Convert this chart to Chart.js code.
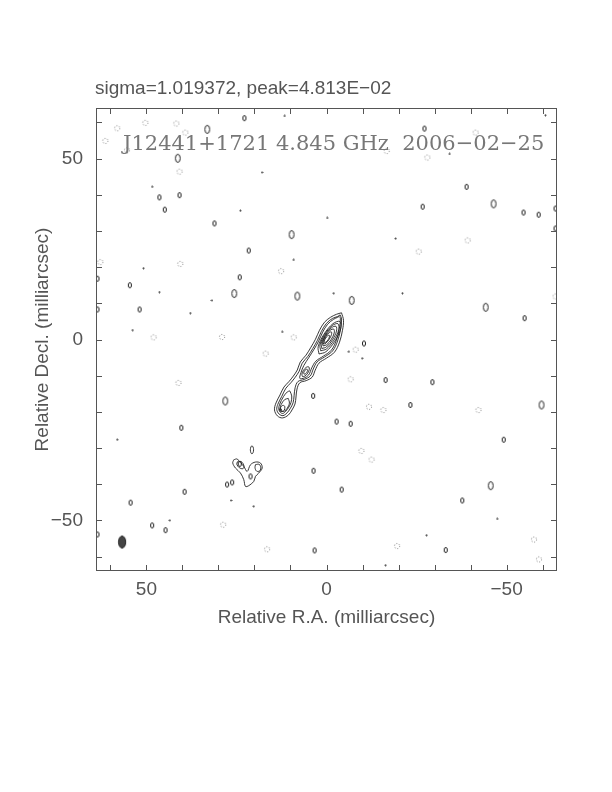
<!DOCTYPE html>
<html lang="en">
<head>
<meta charset="UTF-8">
<title>J12441+1721 4.845 GHz 2006-02-25</title>
<script src="https://cdn.jsdelivr.net/npm/chart.js"></script>
<style>
  html, body { margin: 0; padding: 0; background: #fff; }
  #mapa { display: block; }
</style>
</head>
<body>
<canvas id="mapa" width="612" height="792"></canvas>
<script>
// axis setup (milliarcsec)
const axisLimit = 64;
const tickValues = [-60, -50, -40, -30, -20, -10, 0, 10, 20, 30, 40, 50, 60];
const labelValues = [50, 0, -50];
const labelTexts = ['50', '0', '\u221250'];

const sigmaText = 'sigma=1.019372, peak=4.813E\u221202';
const mapTitle = 'J12441+1721 4.845 GHz  2006\u221202\u221225';

// jet contours, outer to inner  [RA offset, Dec offset]
const jetLevel1 = [[-4.17,7.38],[-4.72,5.32],[-4.44,2.56],[-3.61,-0.74],[-2.22,-3.50],[0.00,-5.15],[2.08,-6.53],[3.14,-8.48],[3.97,-10.40],[5.64,-11.37],[7.40,-11.95],[8.19,-13.69],[8.47,-15.89],[8.75,-17.82],[9.58,-19.48],[10.56,-20.85],[12.22,-21.68],[13.61,-21.13],[14.44,-19.48],[14.03,-17.55],[12.92,-15.35],[11.81,-13.14],[10.42,-11.63],[9.20,-10.10],[8.11,-8.43],[7.28,-6.23],[5.69,-4.33],[4.31,-2.12],[3.06,0.08],[1.94,2.56],[0.56,4.77],[-1.11,6.14],[-2.78,6.97]];
const jetLevel2 = [[-3.78,6.80],[-4.19,5.65],[-3.92,2.89],[-3.08,-0.41],[-1.69,-3.17],[0.53,-4.82],[2.61,-6.20],[3.67,-8.15],[4.50,-10.08],[6.17,-11.04],[7.93,-11.62],[8.72,-13.36],[9.00,-15.56],[9.28,-17.49],[10.11,-19.15],[10.97,-20.30],[12.08,-21.05],[13.19,-20.58],[13.81,-19.34],[13.50,-17.88],[12.39,-15.67],[11.28,-13.47],[9.89,-11.96],[8.67,-10.42],[7.58,-8.76],[6.75,-6.56],[5.17,-4.66],[3.78,-2.45],[2.53,-0.25],[1.42,2.23],[0.03,4.44],[-1.64,5.81],[-3.11,6.36]];
const jetLevel3 = [[-3.51,6.38],[-3.85,5.87],[-3.58,3.11],[-2.74,-0.19],[-1.35,-2.95],[0.87,-4.60],[2.95,-5.98],[4.10,-7.85],[4.95,-9.80],[6.20,-10.65],[7.40,-10.75],[7.10,-9.20],[6.30,-7.20],[4.83,-4.88],[3.44,-2.67],[2.19,-0.47],[1.08,2.01],[-0.31,4.22],[-1.98,5.59],[-3.00,6.10]];
const coreLevel4 = [[2.08,-4.00],[0.17,-3.39],[-2.32,-0.48],[-3.93,2.99],[-3.70,4.98],[-1.79,4.37],[0.70,1.46],[2.31,-2.01]];
const coreLevel5 = [[1.61,-3.12],[0.02,-2.61],[-2.05,-0.19],[-3.39,2.70],[-3.19,4.36],[-1.60,3.85],[0.47,1.43],[1.81,-1.46]];
const coreLevel6 = [[1.31,-2.49],[0.02,-2.06],[-1.67,-0.07],[-2.77,2.30],[-2.63,3.65],[-1.34,3.22],[0.35,1.23],[1.45,-1.14]];
const coreLevel7 = [[0.96,-1.76],[-0.04,-1.45],[-1.33,0.04],[-2.15,1.83],[-2.02,2.86],[-1.02,2.55],[0.27,1.06],[1.09,-0.73]];
const coreLevel8 = [[0.81,-1.26],[0.14,-1.00],[-0.77,0.10],[-1.39,1.38],[-1.35,2.10],[-0.68,1.84],[0.23,0.74],[0.85,-0.54]];
const coreLevel9 = [[0.54,-0.84],[0.11,-0.70],[-0.45,-0.05],[-0.81,0.73],[-0.76,1.18],[-0.33,1.04],[0.23,0.39],[0.59,-0.39]];
const midLevel4 = [[6.66,-10.24],[6.00,-10.12],[5.21,-9.28],[4.77,-8.21],[4.94,-7.56],[5.60,-7.68],[6.39,-8.52],[6.83,-9.59]];
const midLevel5 = [[6.23,-9.57],[5.88,-9.52],[5.48,-9.11],[5.27,-8.57],[5.37,-8.23],[5.72,-8.28],[6.12,-8.70],[6.33,-9.23]];
const lowLevel3 = [[10.2,-14.2],[9.65,-15.6],[9.85,-17.4],[10.55,-18.85],[11.3,-19.8],[12.1,-20.45],[12.85,-20.1],[13.25,-19.2],[13.0,-17.9],[11.95,-15.8],[10.9,-14.5]];
const lowLevel4 = [[10.6,-16.3],[10.3,-17.6],[10.9,-19.0],[11.6,-19.75],[12.4,-19.85],[12.85,-19.2],[12.6,-18.0],[11.6,-16.6]];
const lowLevel5 = [[11.55,-18.5],[11.7,-19.5],[12.35,-19.9],[12.95,-19.6],[12.75,-18.8],[12.1,-18.2]];
const lowLevel6 = [[12.5,-19.25],[12.6,-19.7],[12.95,-19.7],[13.0,-19.3],[12.75,-19.1]];

// south-west feature
const swOuter = [[25.75,-33.25],[24.81,-33.06],[22.97,-35.10],[22.03,-36.47],[21.11,-34.63],[19.72,-33.88],[18.33,-34.16],[17.86,-35.54],[18.81,-36.91],[19.72,-37.85],[20.19,-39.23],[21.58,-40.41],[22.50,-40.61],[22.97,-38.76],[23.89,-36.91],[25.28,-35.54],[26.03,-34.16]];
const swLeftInner = [[24.72,-33.8],[23.6,-33.8],[22.9,-35.0],[23.2,-35.7],[24.2,-35.45],[24.9,-34.5]];
const swRightInner = [[19.72,-34.6],[18.75,-34.5],[18.25,-35.2],[18.5,-36.3],[19.4,-36.4],[19.85,-35.45]];
const swOval = [[21.15,-30.5],[21.0,-29.7],[20.7,-29.4],[20.4,-29.7],[20.25,-30.5],[20.4,-31.3],[20.7,-31.6],[21.0,-31.3]];

// isolated noise contours
const posLarge = [[33.1,58.1],[41.3,50.1],[25.6,12.7],[8.1,12.0],[-7.0,10.8],[-46.4,37.5],[-44.2,8.9],[28.1,-17.0],[-45.6,-40.4],[-59.7,-18.1],[9.7,29.0]];
const posSmall = [[22.8,61.2],[46.4,39.3],[40.8,39.9],[44.9,35.9],[31.1,32.1],[21.6,24.6],[24.1,17.2],[54.6,15.0],[51.9,8.3],[63.6,8.3],[63.6,16.8],[-38.9,42.2],[-26.7,36.7],[-54.7,35.1],[-58.9,34.5],[-63.6,36.2],[-63.6,30.7],[-55.0,5.9],[-27.2,58.3],[-10.4,-1.1],[3.7,-15.6],[-2.8,-22.7],[-16.4,-11.2],[-23.3,-18.1],[-29.4,-11.8],[-6.7,-23.3],[-4.2,-41.5],[3.6,-36.3],[3.3,-58.3],[-33.1,-58.2],[-37.7,-44.5],[-49.2,-27.7],[40.3,-24.4],[39.4,-42.1],[54.4,-45.1],[48.4,-51.4],[44.7,-52.7],[63.6,-53.9],[27.6,-40.1],[26.2,-39.5],[21.1,-37.85],[24.1,-34.4]];
const posDots = [[11.6,61.8],[17.9,46.2],[48.4,42.2],[23.9,35.6],[-0.2,33.6],[9.1,22.0],[50.8,19.7],[46.4,13.1],[31.8,10.8],[37.8,7.3],[53.8,2.6],[12.3,2.1],[-19.2,27.9],[-21.1,12.8],[-34.2,51.3],[-60.8,62.0],[-2.0,12.8],[-6.2,-3.4],[-9.9,-5.2],[58.1,-27.7],[43.5,-50.0],[26.5,-44.5],[20.2,-46.1],[-27.8,-54.1],[-16.4,-62.4],[-47.4,-49.6]];
const negSpots = [[50.3,59.9],[58.1,58.4],[41.7,59.7],[39.2,57.2],[61.4,54.9],[55.4,52.3],[40.8,46.4],[62.8,21.4],[40.6,20.9],[12.6,18.9],[48.0,0.6],[29.0,0.7],[9.1,0.6],[-28.0,50.3],[-16.7,52.1],[-41.4,57.2],[-39.2,27.4],[-25.6,24.3],[-63.6,11.9],[16.9,-3.9],[-8.1,-2.8],[-6.7,-11.0],[-11.8,-18.6],[-42.2,-19.5],[-15.8,-19.5],[-9.7,-30.8],[-12.5,-33.2],[41.1,-12.0],[28.7,-51.2],[16.5,-58.0],[-19.6,-57.1],[-57.6,-55.3],[-59.0,-60.8]];
const beamPos = [[56.75,-56.0]];

// little sprites for the noise blobs
function oval(w, h, rx, ry, stroke, fill, dash) {
    const c = document.createElement('canvas');
    c.width = w; c.height = h;
    const g = c.getContext('2d');
    g.beginPath();
    g.ellipse(w / 2, h / 2, rx, ry, 0, 0, Math.PI * 2);
    if (fill) { g.fillStyle = fill; g.fill(); }
    if (dash) g.setLineDash(dash);
    g.strokeStyle = stroke;
    g.lineWidth = 1;
    g.stroke();
    return c;
}

const spriteLarge = oval(8, 11, 2.4, 4.0, '#222');
const spriteSmall = oval(6, 8, 1.6, 2.6, '#222');
const spriteDot = oval(3, 3, 0.6, 0.6, '#333', '#333');
const spriteNeg = oval(8, 8, 2.6, 2.6, '#777', null, [1, 1.8]);
const spriteBeam = oval(10, 15, 3.6, 6.0, '#222', '#444');

const toXY = arr => arr.map(p => ({ x: p[0], y: p[1] }));

function contour(points) {
    const pts = toXY(points);
    pts.push(pts[0]);
    return {
        data: pts,
        showLine: true,
        borderColor: '#222',
        borderWidth: 0.9,
        pointRadius: 0,
        tension: 0.35,
        fill: false
    };
}

function spots(points, sprite) {
    return {
        data: toXY(points),
        showLine: false,
        pointStyle: sprite,
        pointRadius: 3,
        pointHoverRadius: 3
    };
}

const datasets = [
    contour(jetLevel1), contour(jetLevel2), contour(jetLevel3),
    contour(coreLevel4), contour(coreLevel5), contour(coreLevel6),
    contour(coreLevel7), contour(coreLevel8), contour(coreLevel9),
    contour(midLevel4), contour(midLevel5),
    contour(lowLevel3), contour(lowLevel4), contour(lowLevel5), contour(lowLevel6),
    contour(swOuter), contour(swLeftInner), contour(swRightInner), contour(swOval),
    spots(posLarge, spriteLarge),
    spots(posSmall, spriteSmall),
    spots(posDots, spriteDot),
    spots(negSpots, spriteNeg),
    spots(beamPos, spriteBeam)
];

// frame, inner tick marks and the two text lines
const moldura = {
    id: 'moldura',
    afterDraw(chart) {
        const { ctx, chartArea: a, scales } = chart;
        ctx.save();
        ctx.strokeStyle = '#555';
        ctx.lineWidth = 1;
        ctx.strokeRect(a.left + 0.5, a.top + 0.5, a.right - a.left - 1, a.bottom - a.top - 1);
        const len = 6;
        ctx.beginPath();
        scales.x.ticks.forEach(t => {
            const px = Math.round(scales.x.getPixelForValue(t.value)) + 0.5;
            ctx.moveTo(px, a.bottom); ctx.lineTo(px, a.bottom - len);
            ctx.moveTo(px, a.top); ctx.lineTo(px, a.top + len);
        });
        scales.y.ticks.forEach(t => {
            const py = Math.round(scales.y.getPixelForValue(t.value)) + 0.5;
            ctx.moveTo(a.left, py); ctx.lineTo(a.left + len, py);
            ctx.moveTo(a.right, py); ctx.lineTo(a.right - len, py);
        });
        ctx.stroke();

        ctx.fillStyle = '#555';
        ctx.font = '19px "Liberation Sans"';
        ctx.textBaseline = 'alphabetic';
        ctx.fillText(sigmaText, 95, 94);

        ctx.fillStyle = '#777';
        ctx.font = '21px "DejaVu Serif"';
        ctx.fillText(mapTitle, 123, 150);
        ctx.restore();
    }
};

const fonteEixo = { family: 'Liberation Sans', size: 19 };

new Chart(document.getElementById('mapa'), {
    type: 'scatter',
    data: { datasets: datasets },
    options: {
        responsive: false,
        animation: false,
        devicePixelRatio: 1,
        layout: { padding: { left: 0, top: 108, right: 55, bottom: 0 } },
        plugins: { legend: { display: false }, tooltip: { enabled: false }, title: { display: false } },
        scales: {
            x: {
                type: 'linear',
                reverse: true,
                min: -axisLimit,
                max: axisLimit,
                grid: { display: false, drawTicks: false },
                border: { display: false },
                afterBuildTicks: s => { s.ticks = tickValues.map(v => ({ value: v })); },
                afterFit: s => { s.height = 221; },
                ticks: {
                    autoSkip: false,
                    maxRotation: 0,
                    padding: 7,
                    color: '#555',
                    font: fonteEixo,
                    callback: v => { const i = labelValues.indexOf(v); return i >= 0 ? labelTexts[i] : ''; }
                },
                title: {
                    display: true,
                    text: 'Relative R.A. (milliarcsec)',
                    color: '#555',
                    font: fonteEixo,
                    padding: { top: 0, bottom: 163 }
                }
            },
            y: {
                type: 'linear',
                min: -axisLimit,
                max: axisLimit,
                grid: { display: false, drawTicks: false },
                border: { display: false },
                afterBuildTicks: s => { s.ticks = tickValues.map(v => ({ value: v })); },
                afterFit: s => { s.width = 96; },
                ticks: {
                    autoSkip: false,
                    padding: 13,
                    color: '#555',
                    font: fonteEixo,
                    callback: v => { const i = labelValues.indexOf(v); return i >= 0 ? labelTexts[i] : ''; }
                },
                title: {
                    display: true,
                    text: 'Relative Decl. (milliarcsec)',
                    color: '#555',
                    font: fonteEixo,
                    padding: { top: 31, bottom: 0 }
                }
            }
        }
    },
    plugins: [moldura]
});
</script>
</body>
</html>
